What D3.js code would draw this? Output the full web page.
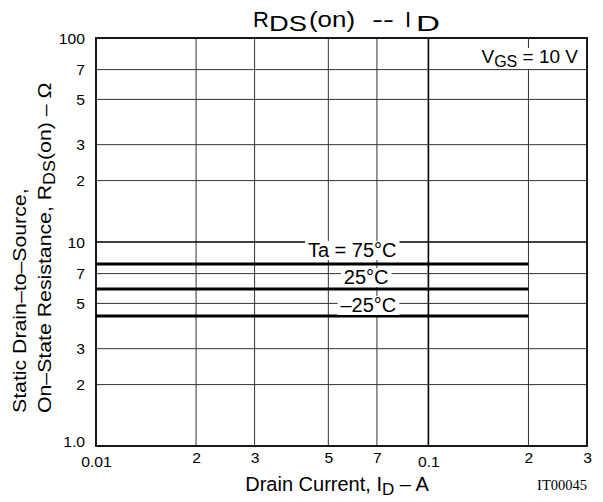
<!DOCTYPE html>
<html>
<head>
<meta charset="utf-8">
<script src="https://cdn.jsdelivr.net/npm/d3@7"></script>
<style>
    body { margin: 0; background: #fff; }
    svg { display: block; }
    text { font-family: "Liberation Sans", Arial, sans-serif; fill: #000; }
</style>
</head>
<body>
<div class="tuxing"></div>
<script>
// 数据
var xTicks = [0.01, 0.02, 0.03, 0.05, 0.07, 0.1, 0.2, 0.3];
var xTickLabels = ["0.01", "2", "3", "5", "7", "0.1", "2", "3"];
var yTicks = [1, 2, 3, 5, 7, 10, 20, 30, 50, 70, 100];
var yTickLabels = ["1.0", "2", "3", "5", "7", "10", "2", "3", "5", "7", "100"];

var current = [0.01, 0.2];          // I_D (A)
var rds75 = [7.8, 7.8];             // Ta = 75°C
var rds25 = [5.88, 5.88];           // 25°C
var rdsM25 = [4.34, 4.34];          // -25°C
var seriesNames = ["Ta = 75°C", "25°C", "–25°C"];

var width = 603, height = 502;
var pLeft = 96, pRight = 587, pTop = 38, pBottom = 446;

var svg = d3.select(".tuxing").append("svg")
    .attr("width", width)
    .attr("height", height);

var x = d3.scaleLog().domain([0.01, 0.3]).range([pLeft, pRight]);
var y = d3.scaleLog().domain([1, 100]).range([pBottom, pTop]);

// 网格
var xGrid = xTicks.slice(1, -1);
var yGrid = yTicks.slice(1, -1);

svg.append("g").selectAll("line")
    .data(xGrid)
    .enter()
    .append("line")
    .attr("x1", function (d) { return x(d); })
    .attr("x2", function (d) { return x(d); })
    .attr("y1", pTop)
    .attr("y2", pBottom)
    .attr("stroke", function (d) { return d === 0.1 ? "#000" : "#333"; })
    .attr("stroke-width", function (d) { return d === 0.1 ? 1.6 : 1; });

svg.append("g").selectAll("line")
    .data(yGrid)
    .enter()
    .append("line")
    .attr("x1", pLeft)
    .attr("x2", pRight)
    .attr("y1", function (d) { return y(d); })
    .attr("y2", function (d) { return y(d); })
    .attr("stroke", function (d) { return d === 10 ? "#000" : "#333"; })
    .attr("stroke-width", function (d) { return d === 10 ? 1.3 : 1; });

// 曲线
var series = [rds75, rds25, rdsM25];
var line = d3.line()
    .x(function (d, i) { return x(current[i]); })
    .y(function (d) { return y(d); });

svg.append("g").selectAll("path")
    .data(series)
    .enter()
    .append("path")
    .attr("d", function (d) { return line(d); })
    .attr("fill", "none")
    .attr("stroke", "#000")
    .attr("stroke-width", 3);

// 边框
svg.append("rect")
    .attr("x", pLeft).attr("y", pTop)
    .attr("width", pRight - pLeft).attr("height", pBottom - pTop)
    .attr("fill", "none").attr("stroke", "#000").attr("stroke-width", 1.8);

// 坐标轴 (只要刻度文字)
var xAxis = d3.axisBottom(x)
    .tickValues(xTicks)
    .tickFormat(function (d, i) { return xTickLabels[i]; })
    .tickSize(0)
    .tickPadding(0);

var gx = svg.append("g")
    .attr("transform", "translate(0," + pBottom + ")")
    .call(xAxis);
gx.select(".domain").remove();
gx.selectAll("text")
    .attr("y", 0)
    .attr("dy", function (d, i) { return (xTickLabels[i].indexOf(".") >= 0) ? 21 : 17; })
    .style("font-size", "14px")
    .style("font-family", "'Liberation Sans', Arial, sans-serif")
    .attr("fill", "#000")
    .attr("transform", "scale(1.12,1)");

var yAxis = d3.axisLeft(y)
    .tickValues(yTicks)
    .tickFormat(function (d, i) { return yTickLabels[i]; })
    .tickSize(0)
    .tickPadding(0);

var gy = svg.append("g")
    .attr("transform", "translate(" + (pLeft - 11) + ",0)")
    .call(yAxis);
gy.select(".domain").remove();
gy.selectAll("text")
    .attr("x", 0)
    .attr("dy", function (d) { return d === 1 ? 0 : 5; })
    .style("font-size", "14px")
    .style("font-family", "'Liberation Sans', Arial, sans-serif")
    .attr("fill", "#000")
    .attr("transform", "scale(1.12,1)");

// 带白底的文字
function boxed(t, pad) {
    var b = t.node().getBBox();
    var r = document.createElementNS("http://www.w3.org/2000/svg", "rect");
    t.node().parentNode.insertBefore(r, t.node());
    d3.select(r)
        .attr("x", b.x - pad).attr("y", b.y + 2)
        .attr("width", b.width + pad * 2).attr("height", b.height - 3)
        .attr("fill", "#fff");
}

// 温度标签
var labelX = [0.059, 0.065, 0.066];
var labelDy = [-7, -5, -4];
seriesNames.forEach(function (name, i) {
    var t = svg.append("text")
        .attr("x", x(labelX[i]))
        .attr("y", y(series[i][0]) + labelDy[i])
        .attr("text-anchor", "middle")
        .style("font-size", "20px")
        .text(name);
    boxed(t, 3);
});

// VGS
var vgs = svg.append("text")
    .attr("x", 578).attr("y", 63)
    .attr("text-anchor", "end")
    .style("font-size", "19px");
vgs.append("tspan").text("V");
vgs.append("tspan").attr("dy", 4).style("font-size", "16px").text("GS");
vgs.append("tspan").attr("dy", -4).text(" = 10 V");
boxed(vgs, 1);

// 标题
var title = svg.append("text")
    .attr("x", 253).attr("y", 27)
    .style("font-size", "22px");
title.append("tspan").text("R");
title.append("tspan").attr("x", 269).attr("dy", 4)
    .attr("textLength", 38).attr("lengthAdjust", "spacingAndGlyphs").text("DS");
title.append("tspan").attr("x", 309).attr("dy", -4)
    .attr("textLength", 46).attr("lengthAdjust", "spacingAndGlyphs").text("(on)");
title.append("tspan").attr("x", 372)
    .attr("textLength", 22).attr("lengthAdjust", "spacingAndGlyphs").text("--");
title.append("tspan").attr("x", 405).text("I");
title.append("tspan").attr("x", 416).attr("dy", 4)
    .attr("textLength", 24).attr("lengthAdjust", "spacingAndGlyphs").text("D");

// x 轴标题
var xt = svg.append("text")
    .attr("x", 337).attr("y", 491)
    .attr("text-anchor", "middle")
    .style("font-size", "20px");
xt.append("tspan").text("Drain Current, I");
xt.append("tspan").attr("dy", 4).style("font-size", "17px").text("D");
xt.append("tspan").attr("dy", -4).text(" – A");

svg.append("text")
    .attr("x", 587).attr("y", 490)
    .attr("text-anchor", "end")
    .style("font-family", "'Liberation Serif', 'Times New Roman', serif")
    .style("font-size", "14.5px")
    .text("IT00045");

// y 轴标题
svg.append("text")
    .attr("transform", "translate(26,413) rotate(-90) scale(1.12,1)")
    .style("font-size", "19px")
    .text("Static Drain–to–Source,");

var yt2 = svg.append("text")
    .attr("transform", "translate(51,413) rotate(-90) scale(1.12,1)")
    .style("font-size", "19px");
yt2.append("tspan").text("On–State Resistance, R");
yt2.append("tspan").attr("dy", 4).style("font-size", "16px").text("DS");
yt2.append("tspan").attr("dy", -4).text("(on) – Ω");
</script>
</body>
</html>
